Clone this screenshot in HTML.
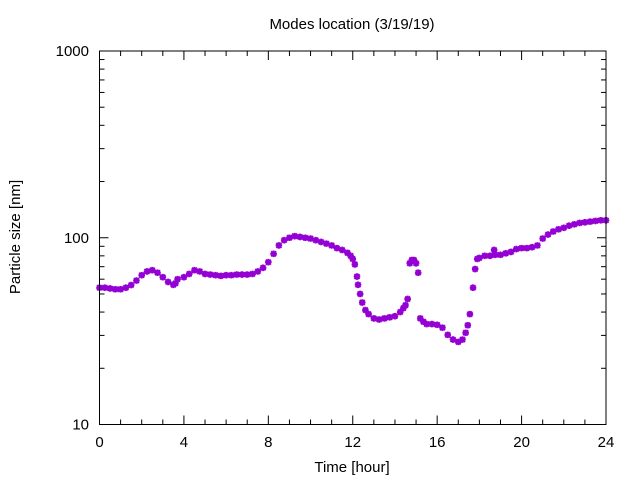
<!DOCTYPE html>
<html><head><meta charset="utf-8"><style>
html,body{margin:0;padding:0;background:#fff;}
svg{display:block;font-family:"Liberation Sans","DejaVu Sans",sans-serif;}
</style></head><body>
<svg id="chart" width="640" height="480" viewBox="0 0 640 480" xmlns="http://www.w3.org/2000/svg">
<rect x="0" y="0" width="640" height="480" fill="#fff"/>
<text x="352" y="29" font-size="15" text-anchor="middle" fill="#000">Modes location (3/19/19)</text>
<text x="352" y="472" font-size="15" text-anchor="middle" fill="#000">Time [hour]</text>
<text x="20" y="237" font-size="15" text-anchor="middle" fill="#000" transform="rotate(-90 20 237)">Particle size [nm]</text>
<g id="axes"></g>
<g id="marks"></g>
<rect x="99.5" y="51" width="506.5" height="373.5" fill="none" stroke="#000" stroke-width="1"/>
</svg>
<script>
const hours = [0,0.25,0.5,0.75,1,1.25,1.5,1.75,2,2.25,2.5,2.75,3,3.25,3.5,3.6,3.7,4,4.25,4.5,4.75,5,5.25,5.5,5.75,6,6.25,6.5,6.75,7,7.25,7.5,7.75,8,8.25,8.5,8.75,9,9.25,9.5,9.75,10,10.25,10.5,10.75,11,11.25,11.5,11.75,11.9,12,12.1,12.2,12.25,12.35,12.45,12.6,12.75,13,13.25,13.5,13.75,14,14.25,14.4,14.5,14.6,14.7,14.8,14.9,15,15.1,15.2,15.35,15.5,15.75,16,16.25,16.5,16.75,17,17.2,17.35,17.45,17.55,17.7,17.8,17.9,18,18.25,18.5,18.7,18.75,19,19.25,19.5,19.75,20,20.25,20.5,20.75,21,21.25,21.5,21.75,22,22.25,22.5,22.75,23,23.25,23.5,23.75,24];
const sizes = [54,54,53.5,53,53,54,55.8,59,63,66,67,65,61.5,58,56,57,60,61.5,64,67,66,64,63.5,63,62.5,63,63,63.5,63.5,63.5,64,66,69,74,82,91,97,100,102,101,100,99,97,95,93,91,88,86,83,80,77,72,62,56,50,45,41,39,37,36.5,37,37.5,38,40,42,43.5,47,73,76,76,73,65,37,35.5,34.5,34.5,34.2,33,30.2,28.5,27.7,28.5,31,34,39,54,68,77,78,80,80,86,81,81,82.5,84,87,88,88,89,91,99,104,108,111,113,116,118,120,121,122,123,124,124];
const xTicks = [0,4,8,12,16,20,24];
const yTicks = [10,100,1000];

const L=99.5,R=606,T=51,B=424.5;
const xS = h => L + (h-0)/(24-0)*(R-L);
const yS = v => B - (Math.log10(v)-1)/2*(B-T);
const NS="http://www.w3.org/2000/svg";
const axes=document.getElementById('axes');
const marks=document.getElementById('marks');
function mk(tag,attrs,parent){const e=document.createElementNS(NS,tag);for(const k in attrs)e.setAttribute(k,attrs[k]);parent.appendChild(e);return e;}

// x ticks
for(let h=0;h<=24;h++){
  const x=xS(h); const major=(h%4===0); const len=major?9:5;
  const t1=mk('line',{x1:x,y1:B,x2:x,y2:B-len,stroke:'#000'},axes);
  
  
  const t2=mk('line',{x1:x,y1:T,x2:x,y2:T+len,stroke:'#000'},axes);
  
  
}
xTicks.forEach(h=>{
  const t=mk('text',{x:xS(h),y:447,'font-size':15,'text-anchor':'middle',fill:'#000'},axes);
  t.textContent=h;
  
  
});
// y ticks (log)
for(let d=10;d<1000;d*=10){
  for(let m=1;m<=10;m++){
    const v=d*m; if(m===10&&d!==100)continue;
    const y=yS(v); const major=(m===1||m===10); const len=major?9:5;
    const t1=mk('line',{x1:L,y1:y,x2:L+len,y2:y,stroke:'#000'},axes);
    
    
    const t2=mk('line',{x1:R,y1:y,x2:R-len,y2:y,stroke:'#000'},axes);
    
    
  }
}
yTicks.forEach(v=>{
  const t=mk('text',{x:89,y:yS(v)+5,'font-size':15,'text-anchor':'end',fill:'#000'},axes);
  t.textContent=v;
  
  
});
// markers
hours.forEach((h,i)=>{
  const x=xS(h), y=yS(sizes[i]), r=3.3;
  const g=mk('path',{d:`M${x-r},${y}H${x+r}M${x},${y-r}V${y+r}M${x-2.5},${y-2.5}L${x+2.5},${y+2.5}M${x-2.5},${y+2.5}L${x+2.5},${y-2.5}`,stroke:'#9400d3','stroke-width':2,fill:'none'},marks);
  
  
});
</script>
</body></html>
